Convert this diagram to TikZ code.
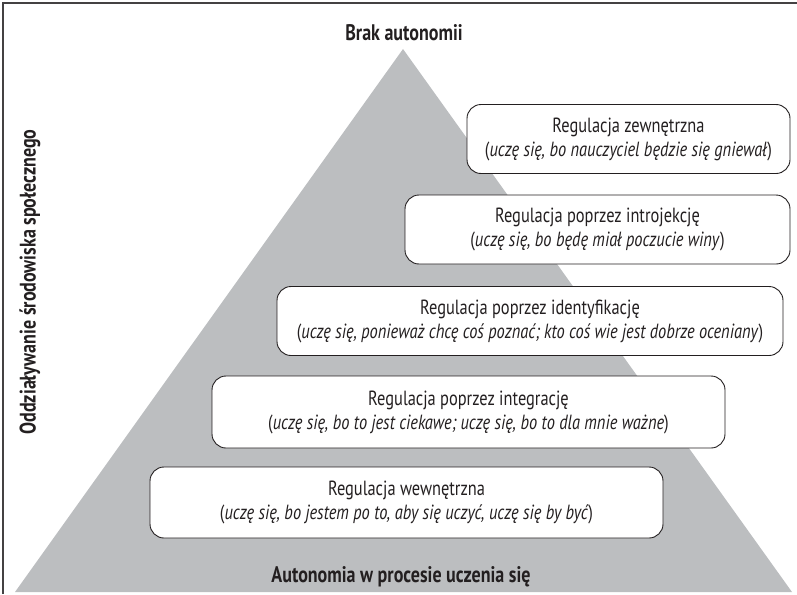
\documentclass[tikz,border=0pt]{standalone}
\usepackage{fontspec}
\setmainfont{PT Sans}[FakeStretch=0.8]
\definecolor{pyr}{HTML}{BCBEC0}
\definecolor{ink}{HTML}{231F20}
\begin{document}
\begin{tikzpicture}[x=1pt,y=-1pt,
  level/.style={draw=ink, line width=0.9pt, rounded corners=14pt, fill=white,
    align=center, minimum height=69pt, inner sep=0pt, text=ink,
    font=\fontsize{20.5}{24}\selectfont},
  heading/.style={text=ink, inner sep=0pt, font=\bfseries\fontsize{22.5}{26}\selectfont}]
\useasboundingbox (0,0) rectangle (797,594);
% pyramid
\coordinate (apex) at (403,49);
\coordinate (baseL) at (15,592);
\coordinate (baseR) at (792,592);
\fill[pyr] (baseL) -- (apex) -- (baseR) -- cycle;
% frame
\draw[ink!85, line width=1.5pt] (3,594) -- (3,3) -- (797,3);
% headings
\node[heading] (top) at (404,33) {Brak autonomii};
\node[heading] (bottom) at (401,577) {Autonomia w procesie uczenia się};
\node[heading, rotate=90] (side) at (30,282) {Oddziaływanie środowiska społecznego};
% levels of regulation
\node[level, minimum width=323pt] (l1) at (628.5,139)
  {Regulacja zewnętrzna\\(\textit{uczę się, bo nauczyciel będzie się gniewał})};
\node[level, minimum width=385pt] (l2) at (597.5,229.5)
  {Regulacja poprzez introjekcję\\(\textit{uczę się, bo będę miał poczucie winy})};
\node[level, minimum width=506pt] (l3) at (530,321)
  {Regulacja poprzez identyfikację\\(\textit{uczę się, ponieważ chcę coś poznać; kto coś wie jest dobrze oceniany})};
\node[level, minimum width=513pt, minimum height=72pt] (l4) at (468.5,412)
  {Regulacja poprzez integrację\\(\textit{uczę się, bo to jest ciekawe; uczę się, bo to dla mnie ważne})};
\node[level, minimum width=513pt, minimum height=71pt] (l5) at (406.5,502.5)
  {Regulacja wewnętrzna\\(\textit{uczę się, bo jestem po to, aby się uczyć, uczę się by być})};
\end{tikzpicture}
\end{document}
